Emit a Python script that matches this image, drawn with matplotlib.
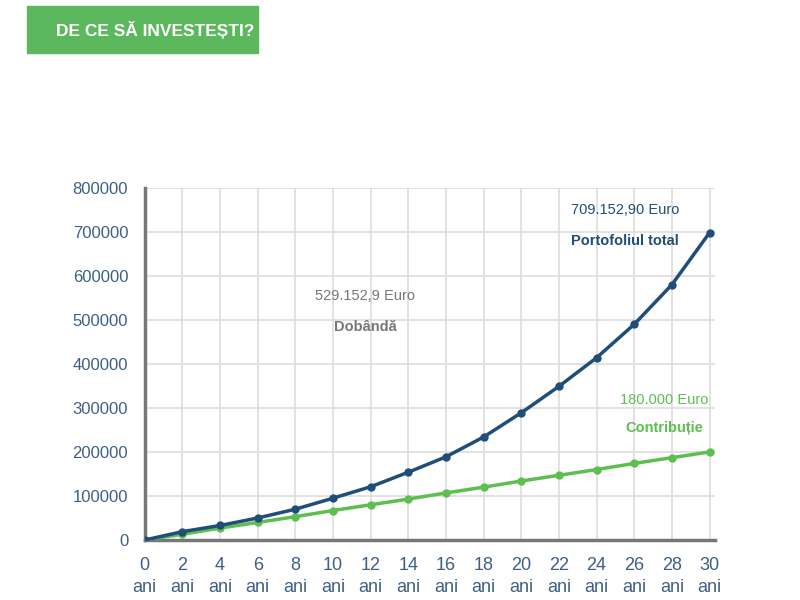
import matplotlib.pyplot as plt
from matplotlib.patches import Rectangle

ani = [0, 2, 4, 6, 8, 10, 12, 14, 16, 18, 20, 22, 24, 26, 28, 30]
portofoliu = [0, 19000, 33000, 50000, 70000, 95000, 121000, 154000, 189000,
              234000, 289000, 349000, 414000, 490000, 580000, 698000]
contributie = [0, 13000, 27000, 40000, 53000, 67000, 80000, 93000, 107000,
               120000, 134000, 147000, 160000, 174000, 187000, 200000]
y_ticks = [0, 100000, 200000, 300000, 400000, 500000, 600000, 700000, 800000]
x_labels = [f"{a}\nani" for a in ani]

blue = "#1f4e79"
green = "#5cbf4f"
tick_col = "#3f5f85"
plt.rcParams['font.family'] = ['Liberation Sans', 'DejaVu Sans']

fig = plt.figure(figsize=(8, 6), dpi=100)
ax = fig.add_axes([0.181, 0.1, 0.713, 0.587])

ax.plot(ani, contributie, color=green, lw=2.5, marker='o', ms=5, zorder=3)
ax.plot(ani, portofoliu, color=blue, lw=2.5, marker='o', ms=5, zorder=4)

ax.set_xlim(0, 30.3)
ax.set_ylim(0, 800000)
ax.set_xticks(ani)
ax.set_xticklabels(x_labels, fontsize=13, color=tick_col, linespacing=1.4)
ax.set_yticks(y_ticks)
ax.set_yticklabels([str(v) for v in y_ticks], fontsize=12, color=tick_col)
ax.tick_params(length=0, pad=12)
ax.tick_params(axis='x', pad=12)
ax.grid(True, color="#dddddd", lw=1.2)
ax.set_axisbelow(True)
for s in ['top', 'right']:
    ax.spines[s].set_visible(False)
for s in ['left', 'bottom']:
    ax.spines[s].set_color("#777777")
    ax.spines[s].set_linewidth(2.5)

ax.text(25.5, 740000, "709.152,90 Euro", color=blue, fontsize=10.5, ha='center')
ax.text(25.5, 670000, "Portofoliul total", color=blue, fontsize=10.5, ha='center', weight='bold')
ax.text(11.7, 545000, "529.152,9 Euro", color="#777777", fontsize=10.5, ha='center')
ax.text(11.7, 475000, "Dobândă", color="#777777", fontsize=10.5, ha='center', weight='bold')
ax.text(27.6, 310000, "180.000 Euro", color=green, fontsize=10.5, ha='center')
ax.text(27.6, 245000, "Contribuție", color=green, fontsize=10.5, ha='center', weight='bold')

fig.patches.append(Rectangle((27 / 800, 1 - 53 / 600), 231 / 800, 47 / 600,
                             transform=fig.transFigure, color="#5cb85c", zorder=0))
fig.text(155 / 800, 1 - 30 / 600, "DE CE SĂ INVESTEȘTI?", color="white", fontsize=12.5,
         weight='bold', ha='center', va='center')

fig.savefig("out.png", dpi=100)
